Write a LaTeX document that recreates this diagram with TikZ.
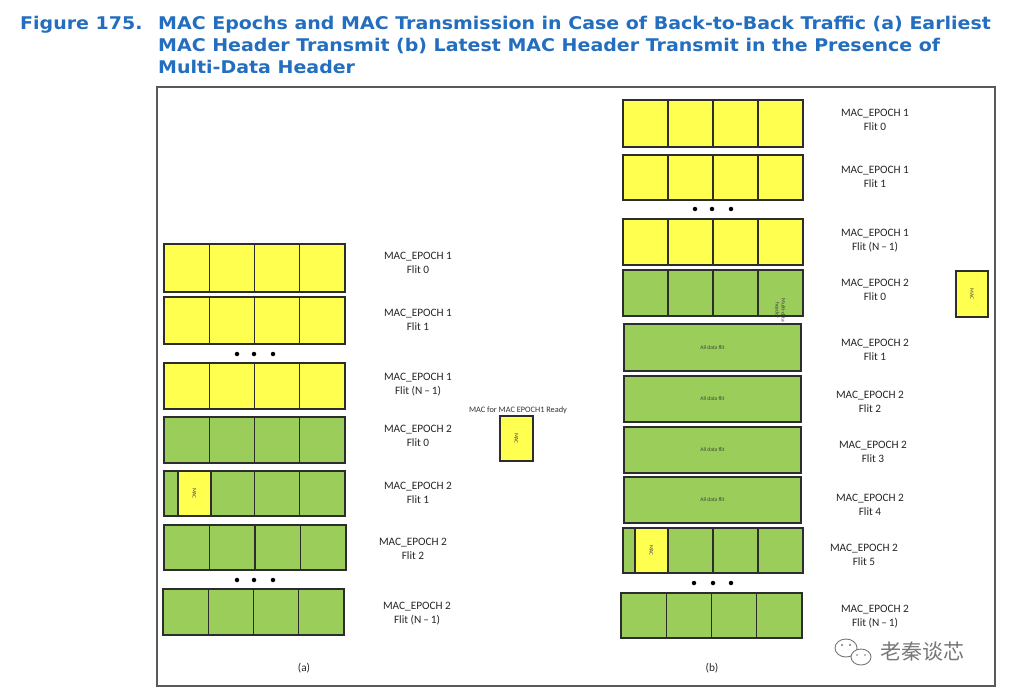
\documentclass[tikz,border=0pt]{standalone}
\usepackage{fontspec}
\usepackage{graphicx}
\setmainfont{Carlito}
\newfontfamily\titlefont{DejaVu Sans}
\newfontfamily\cjkfont{Noto Sans CJK SC}
\usetikzlibrary{calc}
\definecolor{ttl}{RGB}{35,110,190}
\definecolor{fyel}{RGB}{255,255,80}
\definecolor{fgrn}{RGB}{155,205,90}
\definecolor{edgec}{RGB}{45,45,45}
\definecolor{wmark}{RGB}{120,120,120}
\newcommand\lblfont{\fontsize{11.3}{14}\selectfont}
\newcommand\tinyfont{\fontsize{5.5}{6}\selectfont}
\newcommand\ttlwide[1]{\scalebox{1.085}[1]{#1}}
\tikzset{
  rowbox/.style={draw=edgec, line width=1.1pt, inner sep=0pt, outer sep=0pt},
  yellowrow/.style={rowbox, fill=fyel},
  greenrow/.style={rowbox, fill=fgrn},
  cellline/.style={draw=edgec, line width=1.1pt},
  lbl/.style={font=\lblfont, align=center, text=black!85},
  dotn/.style={circle, fill=black, inner sep=0pt, minimum size=4.5pt},
  tinytext/.style={font=\tinyfont, text=black!75, align=center},
  macbox/.style={rowbox, fill=fyel},
  titletext/.style={anchor=base west, inner sep=0pt, font=\titlefont\bfseries\fontsize{17.5}{22}\selectfont, text=ttl},
}
% name, x0, y0, x1, y1, style
\newcommand\flitrow[6]{%
  \node[#6, minimum width={(#4-#2)*1pt}, minimum height={(#5-#3)*1pt}] (#1) at ({(#2+#4)/2},{(#3+#5)/2}) {};
  \foreach \f in {0.25,0.5,0.75}
    \draw[cellline] ($(#1.north west)!\f!(#1.north east)$) -- ($(#1.south west)!\f!(#1.south east)$);
}
\newcommand\datarow[6]{%
  \node[#6, minimum width={(#4-#2)*1pt}, minimum height={(#5-#3)*1pt}] (#1) at ({(#2+#4)/2},{(#3+#5)/2}) {};
  \node[tinytext] (#1t) at (#1.center) {All data flit};
}
\begin{document}
\begin{tikzpicture}[x=1pt,y=-1pt]
\useasboundingbox (0,0) rectangle (1018,688);
\fill[white] (0,0) rectangle (1018,688);
% title
\node[titletext] (fig) at (20,29) {\ttlwide{Figure 175.}};
\node[titletext] (title1) at (158,29) {\ttlwide{MAC Epochs and MAC Transmission in Case of Back-to-Back Traffic (a) Earliest}};
\node[titletext] (title2) at (158,51) {\ttlwide{MAC Header Transmit (b) Latest MAC Header Transmit in the Presence of}};
\node[titletext] (title3) at (158,73) {\ttlwide{Multi-Data Header}};
% frame
\draw[draw=black!65, line width=1.5pt] (157,87) rectangle (995,686);

% ---------- (a) ----------
\flitrow{a1}{164}{244}{345}{292}{yellowrow}
\flitrow{a2}{164}{297}{345}{344}{yellowrow}
\flitrow{a3}{164}{363}{345}{409}{yellowrow}
\flitrow{a4}{164}{417}{345}{463}{greenrow}
\flitrow{a5}{164}{471}{345}{516}{greenrow}
\flitrow{a6}{164}{525}{346}{570}{greenrow}
\flitrow{a7}{163}{589}{344}{635}{greenrow}
\node[macbox, minimum width=33pt, minimum height=45pt] (a5mac) at (194.5,493.5) {};
\node[tinytext, rotate=-90] (a5mact) at (a5mac.center) {MAC};
\node[dotn] (ad1) at (237,354) {};
\node[dotn] (ad2) at (254,354) {};
\node[dotn] (ad3) at (273,354) {};
\node[dotn] (ad4) at (237,580) {};
\node[dotn] (ad5) at (254,580) {};
\node[dotn] (ad6) at (273,580) {};
\node[lbl] (la1) at (418,263) {MAC\_EPOCH 1\\Flit 0};
\node[lbl] (la2) at (418,320) {MAC\_EPOCH 1\\Flit 1};
\node[lbl] (la3) at (418,384.5) {MAC\_EPOCH 1\\Flit (N\,--\,1)};
\node[lbl] (la4) at (418,436) {MAC\_EPOCH 2\\Flit 0};
\node[lbl] (la5) at (418,493) {MAC\_EPOCH 2\\Flit 1};
\node[lbl] (la6) at (413,549) {MAC\_EPOCH 2\\Flit 2};
\node[lbl] (la7) at (417,614) {MAC\_EPOCH 2\\Flit (N\,--\,1)};
\node[lbl] (capa) at (304,668) {(a)};
% middle MAC
\node[macbox, minimum width=33pt, minimum height=45pt] (midmac) at (516.5,438.5) {};
\node[tinytext, rotate=-90] (midmact) at (midmac.center) {MAC};
\node[font=\fontsize{8.3}{9}\selectfont, text=black!80] (midlbl) at (518,410) {MAC for MAC EPOCH1 Ready};

% ---------- (b) ----------
\flitrow{b1}{623}{100}{803}{147}{yellowrow}
\flitrow{b2}{623}{155}{803}{200}{yellowrow}
\flitrow{b3}{623}{219}{803}{265}{yellowrow}
\flitrow{b4}{623}{270}{803}{316}{greenrow}
\node[tinytext, rotate=-90] (b4t) at ($(b4.north west)!0.875!(b4.south east)$) {Multi-data\\header};
\datarow{b5}{624}{324}{801}{371}{greenrow}
\datarow{b6}{624}{376}{801}{422}{greenrow}
\datarow{b7}{624}{427}{801}{473}{greenrow}
\datarow{b8}{624}{477}{801}{523}{greenrow}
\flitrow{b9}{623}{528}{803}{573}{greenrow}
\node[macbox, minimum width=33pt, minimum height=45pt] (b9mac) at (651.5,550.5) {};
\node[tinytext, rotate=-90] (b9mact) at (b9mac.center) {MAC};
\flitrow{b10}{621}{593}{802}{638}{greenrow}
\node[dotn] (bd1) at (695,209) {};
\node[dotn] (bd2) at (712,209) {};
\node[dotn] (bd3) at (731,209) {};
\node[dotn] (bd4) at (694,583) {};
\node[dotn] (bd5) at (713,583) {};
\node[dotn] (bd6) at (731,583) {};
\node[macbox, minimum width=32pt, minimum height=46pt] (rmac) at (972,294) {};
\node[tinytext, rotate=-90] (rmact) at (rmac.center) {MAC};
\node[lbl] (lb1) at (875,119.5) {MAC\_EPOCH 1\\Flit 0};
\node[lbl] (lb2) at (875,177) {MAC\_EPOCH 1\\Flit 1};
\node[lbl] (lb3) at (875,241) {MAC\_EPOCH 1\\Flit (N\,--\,1)};
\node[lbl] (lb4) at (875,290) {MAC\_EPOCH 2\\Flit 0};
\node[lbl] (lb5) at (875,350) {MAC\_EPOCH 2\\Flit 1};
\node[lbl] (lb6) at (870,402) {MAC\_EPOCH 2\\Flit 2};
\node[lbl] (lb7) at (873,452) {MAC\_EPOCH 2\\Flit 3};
\node[lbl] (lb8) at (870,504.5) {MAC\_EPOCH 2\\Flit 4};
\node[lbl] (lb9) at (864,554.5) {MAC\_EPOCH 2\\Flit 5};
\node[lbl] (lb10) at (875,617) {MAC\_EPOCH 2\\Flit (N\,--\,1)};
\node[lbl] (capb) at (712,668) {(b)};

% watermark
\begin{scope}[draw=wmark, line width=0.9pt]
  \draw (846,648) ellipse [x radius=11, y radius=9];
  \fill[white] (861,657) ellipse [x radius=10, y radius=8];
  \draw (861,657) ellipse [x radius=10, y radius=8];
  \fill[wmark] (842,645) circle (1.1) (850,645) circle (1.1) (857,655) circle (0.9) (865,655) circle (0.9);
\end{scope}
\node[font=\cjkfont\fontsize{21}{22}\selectfont, text=wmark, anchor=west] (wm) at (877,652) {老秦谈芯};
\end{tikzpicture}
\end{document}
